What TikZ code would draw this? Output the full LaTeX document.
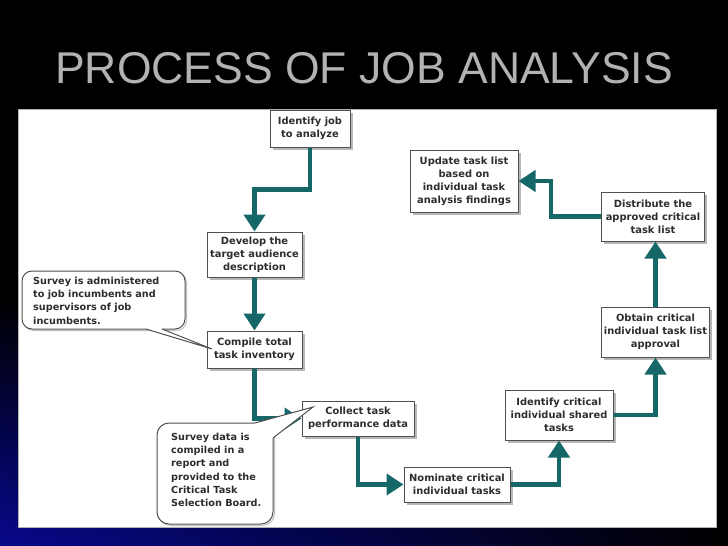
\documentclass[tikz,border=0pt]{standalone}
\usepackage{fontspec}
\setmainfont{Liberation Sans}
\newfontfamily\boxfont{DejaVu Sans}
\usetikzlibrary{arrows.meta,shadings,shadows}
\definecolor{navybg}{RGB}{8,8,140}
\definecolor{titlegray}{RGB}{178,178,178}
\definecolor{flowteal}{RGB}{22,104,104}
\definecolor{boxline}{RGB}{80,80,80}
\definecolor{txt}{RGB}{45,45,45}
\tikzset{
  stepbox/.style={draw=boxline, line width=1pt, fill=white, align=center,
    inner sep=1pt, text=txt,
    font=\boxfont\bfseries\fontsize{9.9}{13}\selectfont,
    drop shadow={shadow xshift=2.5pt, shadow yshift=-2.5pt, fill=gray!70, opacity=0.8}},
  flow/.style={draw=flowteal, line width=4.5pt,
    -{Triangle[width=21pt,length=17pt]}},
  callbox/.style={draw=boxline, line width=1pt, fill=white},
  calltext/.style={align=left, inner sep=0pt, text=txt,
    font=\boxfont\bfseries\fontsize{9.7}{13.2}\selectfont}
}
\begin{document}
\begin{tikzpicture}[x=1pt,y=-1pt]
\useasboundingbox (0,0) rectangle (728,546);
\fill[black] (0,0) rectangle (728,546);
\shade[shading=bilinear interpolation, lower left=navybg, upper left=black,
  upper right=black, lower right=black] (0,546) rectangle (728,300);
\fill[white, draw=gray!60] (18,109) rectangle (716,527);
\node[text=titlegray, font=\fontsize{44.5}{44.5}\selectfont] (title) at (364,68) {PROCESS OF JOB ANALYSIS};

% boxes
\node[stepbox, minimum width=80pt, minimum height=37pt] (b1) at (310,128.5) {Identify job\\to analyze};
\node[stepbox, minimum width=95pt, minimum height=45pt] (b2) at (254.5,254.5) {Develop the\\target audience\\description};
\node[stepbox, minimum width=95pt, minimum height=37pt] (b3) at (254.5,349.5) {Compile total\\task inventory};
\node[stepbox, minimum width=112pt, minimum height=35pt] (b4) at (358,418.5) {Collect task\\performance data};
\node[stepbox, minimum width=106pt, minimum height=35pt] (b5) at (457,484.5) {Nominate critical\\individual tasks};
\node[stepbox, minimum width=108pt, minimum height=50pt] (b6) at (559,415) {Identify critical\\individual shared\\tasks};
\node[stepbox, minimum width=108pt, minimum height=50pt] (b7) at (655.5,332) {Obtain critical\\individual task list\\approval};
\node[stepbox, minimum width=103pt, minimum height=49pt] (b8) at (653,216.5) {Distribute the\\approved critical\\task list};
\node[stepbox, minimum width=108pt, minimum height=62pt] (b9) at (464,181) {Update task list\\based on\\individual task\\analysis findings};

% connectors
\draw[flow] (b1.south) -- ++(0,42) -| (b2.north);
\draw[flow] (b2.south) -- (b3.north);
\draw[flow] (b3.south) |- (b4.west);
\draw[flow] (b4.south) |- (b5.west);
\draw[flow] (b5.east) -| (b6.south);
\draw[flow] (b6.east) -| (b7.south);
\draw[flow] (b7.north) -- (b7.north |- b8.south);
\draw[flow] (b8.west) -- ++(-50,0) |- (b9.east);

% callout 1
\draw[gray!50, line width=1pt, rounded corners=10pt] (23.5,272.5) rectangle (186.5,330.5);
\draw[callbox, rounded corners=10pt] (22,271) rectangle (185,329);
\fill[white] (146,329) -- (212,349) -- (162,329) -- (162,325) -- (146,325) -- cycle;
\draw[boxline, line width=1pt] (146,329) -- (212,349) -- (162,329);
\node[calltext, anchor=north west] (c1) at (33,277) {Survey is administered\\to job incumbents and\\supervisors of job\\incumbents.};

% callout 2
\draw[gray!50, line width=1pt, rounded corners=12pt] (158.5,424.5) rectangle (274.5,525.5);
\draw[callbox, rounded corners=12pt] (157,423) rectangle (273,524);
\fill[white] (255,423) -- (313,407) -- (273,438) -- (268,438) -- (255,428) -- cycle;
\draw[boxline, line width=1pt] (255,423) -- (313,407) -- (273,438);
\node[calltext, anchor=north west] (c2) at (171,433) {Survey data is\\compiled in a\\report and\\provided to the\\Critical Task\\Selection Board.};
\end{tikzpicture}
\end{document}
